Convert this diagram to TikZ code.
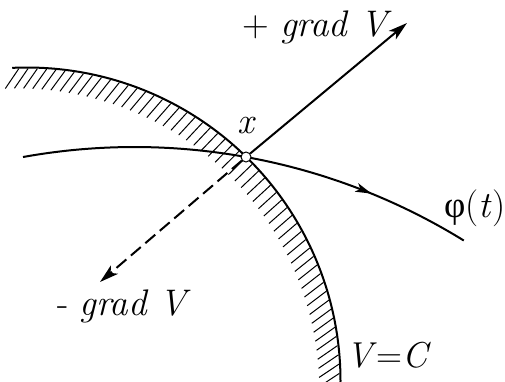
\documentclass[tikz,border=0pt]{standalone}
\usepackage{fontspec}
\newfontfamily\grk{Liberation Serif}
\usetikzlibrary{arrows.meta,decorations.markings}
\tikzset{
  curve/.style={line width=2pt},
  hatch/.style={line width=1pt},
  vec/.style={line width=2pt,-{Stealth[length=19pt,width=11pt,inset=5pt]}},
  lbl/.style={inner sep=0pt,font=\fontsize{37}{42}\selectfont},
  pt/.style={circle,draw,fill=white,line width=1pt,inner sep=0pt,minimum size=10pt}
}
\begin{document}
\begin{tikzpicture}[x=1pt,y=1pt]
\useasboundingbox (0,0) rectangle (505,381);
\begin{scope}
\clip (0,0) rectangle (505,381);
% hatching inside the level set
\foreach \a [evaluate=\a as \d using 213+0.25*\a] in {91.5,89.8,...,0.5}
  \draw[hatch,shift={(27,0)}] (\a:312.5) -- ++(\d:24);
% level set V=C
\draw[curve] (27,0) ++(92.7:313.5) arc[start angle=92.7,end angle=-1,radius=313.5];
% trajectory phi(t)
\draw[curve,decoration={markings,mark=at position 0.774 with {\arrow{Stealth[length=16pt,width=9pt,inset=4pt]}}},postaction={decorate}]
  (134.5,-392.6) ++(100.25:626.6) arc[start angle=100.25,end angle=58.3,radius=626.6];
\end{scope}
\node[pt] (X) at (246,224) {};
\coordinate (P) at (407,358);
\coordinate (M) at (100,99);
\draw[vec] (X) -- (P);
\draw[vec,dash pattern=on 13pt off 6pt] (X) -- (M);
\node[lbl,anchor=base west] (gp) at (242,344) {+ \textit{grad V}};
\node[lbl,anchor=base west] (gm) at (57,66) {- \textit{grad V}};
\node[lbl,anchor=base] (xl) at (247,248) {\textit{x}};
\node[lbl,anchor=base west,font=\fontsize{37}{42}\selectfont] (phi) at (444,164) {{\grk φ}(\textit{t})};
\node[lbl,anchor=base west,font=\fontsize{36}{42}\selectfont] (vc) at (346,14) {\textit{V}=\textit{C}};
\end{tikzpicture}
\end{document}
